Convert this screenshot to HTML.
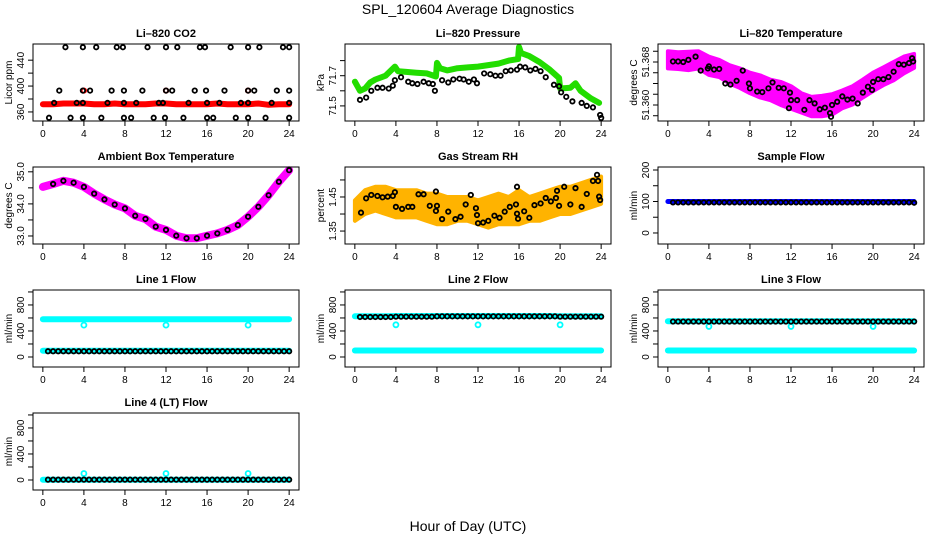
<!DOCTYPE html>
<html><head><meta charset="utf-8"><style>
html,body{margin:0;padding:0;background:#fff;}
svg{display:block;font-family:"Liberation Sans",sans-serif;}
</style></head><body>
<svg id="chart" width="936" height="540" viewBox="0 0 936 540" xmlns="http://www.w3.org/2000/svg">
<rect width="936" height="540" fill="#fff"/>
<text x="468" y="14" font-size="14" text-anchor="middle">SPL_120604  Average Diagnostics</text>
<text x="468" y="531" font-size="14" text-anchor="middle">Hour of Day (UTC)</text>
</svg>
<script>
// ---------- data ----------
const xTicks = [0,4,8,12,16,20,24];
const hrsHourly = [0,1,2,3,4,5,6,7,8,9,10,11,12,13,14,15,16,17,18,19,20,21,22,23,24];
const hrsHalf = [0.5,1,1.5,2,2.5,3,3.5,4,4.5,5,5.5,6,6.5,7,7.5,8,8.5,9,9.5,10,10.5,11,11.5,12,12.5,13,13.5,14,14.5,15,15.5,16,16.5,17,17.5,18,18.5,19,19.5,20,20.5,21,21.5,22,22.5,23,23.5,24];

// CO2
const co2HiHours = [2.2,3.9,5.2,7.2,7.8,10.2,12,13.1,15.3,15.8,18.3,20,21.1,23.4,24];
const co2HiVals = [460,460,460,460,460,460,460,460,460,460,460,460,460,460,460];
const co2M1Hours = [1.6,3.9,4.6,6.7,7.9,9.7,12,12.6,14.8,15.9,17.7,20,20.6,22.8,24];
const co2M1Vals = [393,393,393,393,393,393,393,393,393,393,393,393,393,393,393];
const co2M2Hours = [1.1,3.3,3.9,6.3,7.9,9.1,11.3,11.7,14.2,16,17.2,19.3,20,22.3,24];
const co2M2Vals = [374,374,374,374,374,374,374,374,374,374,374,374,374,374,374];
const co2LoHours = [0.6,2.7,3.9,5.7,7.9,8.6,10.8,11.9,13.7,16,16.6,18.8,20,21.7,24];
const co2LoVals = [351,351,351,351,351,351,351,351,351,351,351,351,351,351,351];
const co2RedVals = [372,372,373,373,373,372,372,373,372,372,372,373,373,372,372,372,372,373,372,372,372,373,371,372,372];
const co2RedSpikeHours = [4,12,20];
const co2RedSpikeVals = [393,393,393];

// Pressure
const presBlackHours = [0.5,1.1,1.6,2.2,2.7,3.3,3.7,3.9,4.5,5.2,5.6,6.1,6.7,7.2,7.6,7.8,8.5,9.1,9.6,10.2,10.6,11.1,11.6,11.9,12.6,13.2,13.7,14.2,14.7,15.2,15.8,16.1,16.6,17.1,17.6,18.1,18.6,19.4,19.9,20.1,20.6,21.2,22.1,22.6,23.2,23.9,24];
const presBlackVals = [71.54,71.555,71.60,71.62,71.62,71.615,71.634,71.67,71.69,71.66,71.65,71.645,71.66,71.65,71.645,71.60,71.67,71.655,71.675,71.68,71.675,71.66,71.675,71.65,71.715,71.71,71.70,71.70,71.73,71.735,71.74,71.76,71.755,71.735,71.745,71.73,71.69,71.64,71.63,71.59,71.56,71.53,71.52,71.50,71.49,71.44,71.42];
const presGreenHours = [0,0.5,1,1.5,2,3,3.9,4.2,5,6,7,7.9,8,8.3,9,10,11,12,13,14,15,15.9,16,16.2,17,18,19,19.9,20,21,21.5,22,23,23.8];
const presGreenVals = [71.66,71.60,71.615,71.655,71.675,71.70,71.76,71.73,71.725,71.72,71.715,71.695,71.785,71.75,71.735,71.75,71.755,71.76,71.77,71.78,71.80,71.81,71.89,71.85,71.83,71.79,71.74,71.685,71.615,71.62,71.65,71.60,71.55,71.52];

// Li-820 temperature
const tempBlackHours = [0.5,1,1.5,2,2.7,3.2,3.9,4,4.5,5,5.6,6.1,6.7,7.3,7.9,8,8.7,9.2,9.8,10.2,10.8,11.3,11.9,12,11.8,12.6,13.3,13.8,14.3,14.8,15.3,15.8,15.9,16,16.5,17,17.5,18,18.5,19,19.5,19.9,20,20.5,21,21.5,22,22.5,23,23.5,23.8,23.9];
const tempBlackVals = [51.3681,51.3681,51.3680,51.3684,51.3690,51.3664,51.3668,51.3672,51.3666,51.3667,51.3640,51.3638,51.3645,51.3664,51.3640,51.3631,51.3625,51.3624,51.3631,51.3642,51.3632,51.3631,51.3623,51.3609,51.3594,51.3609,51.3591,51.3609,51.3603,51.3592,51.3595,51.3585,51.3578,51.3600,51.3606,51.3616,51.3610,51.3612,51.3603,51.3623,51.3634,51.3628,51.3643,51.3648,51.3648,51.3652,51.3662,51.3676,51.3675,51.3678,51.3687,51.3681];
const tempBandHi = [51.3700,51.3698,51.3699,51.3700,51.3690,51.3684,51.3674,51.3668,51.3660,51.3655,51.3647,51.3643,51.3635,51.3622,51.3615,51.3617,51.3620,51.3627,51.3635,51.3647,51.3660,51.3670,51.3680,51.3690,51.3695];
const tempBandLo = [51.3668,51.3667,51.3665,51.3668,51.3656,51.3652,51.3640,51.3632,51.3622,51.3614,51.3609,51.3600,51.3593,51.3586,51.3579,51.3579,51.3582,51.3594,51.3601,51.3614,51.3626,51.3637,51.3646,51.3659,51.3669];

// Ambient box temperature
const ambVals = [34.53,34.62,34.72,34.66,34.53,34.32,34.14,33.98,33.86,33.63,33.53,33.29,33.19,33.01,32.93,32.93,33.01,33.08,33.19,33.34,33.60,33.91,34.27,34.69,35.05];

// Gas stream RH
const rhBlackHours = [0.6,1.1,1.6,2.2,2.7,3.2,3.7,3.9,4,4.6,5.2,5.6,6.2,6.7,7.3,7.9,7.9,8,8.5,9.1,9.8,10.3,10.8,11.3,11.8,11.9,12,12.5,13,13.6,14.1,14.6,15.1,15.7,15.8,15.8,15.9,16.5,17,17.5,18.1,18.6,19.1,19.6,19.7,19.9,20.4,21,21.5,22.1,22.6,23.2,23.6,23.7,23.8,23.9];
const rhBlackVals = [1.404,1.446,1.456,1.453,1.449,1.451,1.453,1.464,1.421,1.415,1.421,1.421,1.458,1.458,1.424,1.466,1.409,1.424,1.385,1.407,1.385,1.392,1.428,1.456,1.417,1.397,1.373,1.375,1.380,1.395,1.389,1.407,1.421,1.428,1.480,1.401,1.386,1.408,1.389,1.426,1.431,1.447,1.437,1.447,1.468,1.424,1.480,1.428,1.476,1.421,1.459,1.497,1.515,1.497,1.451,1.441];
const rhBandHi = [1.44,1.47,1.48,1.48,1.47,1.47,1.47,1.46,1.46,1.45,1.45,1.45,1.44,1.45,1.46,1.45,1.47,1.45,1.46,1.47,1.48,1.48,1.49,1.50,1.51];
const rhBandLo = [1.38,1.40,1.41,1.40,1.39,1.39,1.39,1.38,1.37,1.37,1.38,1.38,1.37,1.36,1.37,1.37,1.37,1.38,1.38,1.39,1.40,1.40,1.41,1.42,1.43];

// Flows
const sampleBlue = [100,100,100,100,100,100,100,100,100,100,100,100,100,100,100,100,100,100,100,100,100,100,100,100,100];
const sampleBlack = [97,97,97,97,97,97,97,97,97,97,97,97,97,97,97,97,97,97,97,97,97,97,97,97,97,97,97,97,97,97,97,97,97,97,97,97,97,97,97,97,97,97,97,97,97,97,97,96];
const line1CyanHi = [580,580,580,580,580,580,580,580,580,580,580,580,580,580,580,580,580,580,580,580,580,580,580,580,580];
const line1CyanLo = [95,95,95,95,95,95,95,95,95,95,95,95,95,95,95,95,95,95,95,95,95,95,95,95,95];
const line1Black = [88,88,88,88,88,88,88,88,88,88,88,88,88,88,88,88,88,88,88,88,88,88,88,88,88,88,88,88,88,88,88,88,88,88,88,88,88,88,88,88,88,88,88,88,88,88,88,88];
const line2CyanHi = [625,625,625,625,630,630,630,630,630,630,630,630,630,630,630,630,630,630,630,630,625,625,625,625,625];
const line2CyanLo = [100,100,100,100,100,100,100,100,100,100,100,100,100,100,100,100,100,100,100,100,100,100,100,100,100];
const line2Black = [615,615,615,615,615,615,615,620,620,620,620,620,620,620,620,625,625,625,625,625,625,625,625,625,625,625,625,625,625,625,625,625,625,625,625,625,625,625,625,620,620,620,620,620,620,620,620,620];
const line3CyanHi = [550,550,550,550,550,550,550,550,550,550,550,550,550,550,550,550,550,550,550,550,550,550,550,550,550];
const line3CyanLo = [100,100,100,100,100,100,100,100,100,100,100,100,100,100,100,100,100,100,100,100,100,100,100,100,100];
const line3Black = [545,545,545,545,545,545,545,545,545,545,545,545,545,545,545,545,545,545,545,545,545,545,545,545,545,545,545,545,545,545,545,545,545,545,545,545,545,545,545,545,545,545,545,545,545,545,545,545];
const line4Cyan = [5,5,5,5,5,5,5,5,5,5,5,5,5,5,5,5,5,5,5,5,5,5,5,5,5];
const line4Black = [5,5,5,5,5,5,5,5,5,5,5,5,5,5,5,5,5,5,5,5,5,5,5,5,5,5,5,5,5,5,5,5,5,5,5,5,5,5,5,5,5,5,5,5,5,5,5,5];
const dipHours = [4,12,20];
const line1Dips = [490,490,490];
const line2Dips = [495,495,495];
const line3Dips = [470,470,470];
const line4Spikes = [100,100,100];

// ---------- drawing ----------
const NS = "http://www.w3.org/2000/svg";
const svg = document.getElementById('chart');
function mk(tag, attrs, parent){
  const e = document.createElementNS(NS, tag);
  for (const k in attrs) e.setAttribute(k, attrs[k]);
  (parent||svg).appendChild(e);
  return e;
}
const cols = [33,345,658];
const rows = [[44,121],[167,244],[290,367],[413,490]];
const W = 266;

function panel(name, title, col, row, ylim, ticks, labels, ylab){
  const l = cols[col], r = l + W, t = rows[row][0], b = rows[row][1];
  const g = mk('g', {});
  
  
  const xs = v => l + (v + 0.96) / 25.92 * W;
  const ys = v => b - (v - ylim[0]) / (ylim[1] - ylim[0]) * (b - t);
  const tt = mk('text', {x:(l+r)/2, y:t-7, 'font-size':11, 'font-weight':'bold', 'text-anchor':'middle'}, g);
  tt.textContent = title;
  
  
  const plot = mk('g', {}, g);
  
  
  const xa = mk('g', {}, g);
  
  
  mk('line', {x1:xs(xTicks[0]), x2:xs(xTicks[xTicks.length-1]), y1:b, y2:b, stroke:'#000'}, xa);
  xTicks.forEach(v => {
    mk('line', {x1:xs(v), x2:xs(v), y1:b, y2:b+5, stroke:'#000'}, xa);
    const tx = mk('text', {x:xs(v), y:b+16, 'font-size':10, 'text-anchor':'middle'}, xa);
    tx.textContent = v;
  });
  const ya = mk('g', {}, g);
  
  
  mk('line', {x1:l, x2:l, y1:ys(ticks[0]), y2:ys(ticks[ticks.length-1]), stroke:'#000'}, ya);
  ticks.forEach(v => {
    mk('line', {x1:l-5, x2:l, y1:ys(v), y2:ys(v), stroke:'#000'}, ya);
  });
  labels.forEach(v => {
    const y = ys(v);
    const tx = mk('text', {x:l-9, y:y, 'font-size':10, 'text-anchor':'middle', transform:`rotate(-90 ${l-9} ${y})`}, ya);
    tx.textContent = v;
  });
  const yl = mk('text', {x:l-21, y:(t+b)/2, 'font-size':10, 'text-anchor':'middle', transform:`rotate(-90 ${l-21} ${(t+b)/2})`}, g);
  yl.textContent = ylab;
  
  
  mk('rect', {x:l, y:t, width:W, height:b-t, fill:'none', stroke:'#000'}, g);
  return {xs, ys, plot};
}
function pts(P, hours, vals, color, r, sw, name){
  const g = mk('g', {}, P.plot);
  
  
  hours.forEach((h,i) => {
    mk('circle', {cx:P.xs(h), cy:P.ys(vals[i]), r:r, fill:'none', stroke:color, 'stroke-width':sw}, g);
  });
}
function line(P, hours, vals, color, w, name){
  const d = hours.map((h,i) => (i?'L':'M') + P.xs(h).toFixed(1) + ' ' + P.ys(vals[i]).toFixed(1)).join(' ');
  const p = mk('path', {d:d, fill:'none', stroke:color, 'stroke-width':w, 'stroke-linejoin':'round', 'stroke-linecap':'round'}, P.plot);
  
  
}
function band(P, hours, lo, hi, color, name){
  const up = hours.map((h,i) => P.xs(h).toFixed(1)+','+P.ys(hi[i]).toFixed(1));
  const dn = hours.map((h,i) => P.xs(h).toFixed(1)+','+P.ys(lo[i]).toFixed(1)).reverse();
  const p = mk('polygon', {points: up.concat(dn).join(' '), fill:color, stroke:color, 'stroke-width':4, 'stroke-linejoin':'round'}, P.plot);
  
  
}

const SW = 1.8;
let P = panel('co2-panel', 'Li\u2013820 CO2', 0, 0, [346,465], [360,380,400,420,440], [360,400,440], 'Licor ppm');
line(P, hrsHourly, co2RedVals, '#f00', 6, 'co2-red-series');
pts(P, co2RedSpikeHours, co2RedSpikeVals, '#f00', 2.2, SW, 'co2-red-spikes');
pts(P, co2HiHours, co2HiVals, '#000', 2.2, SW, 'co2-black-460');
pts(P, co2M1Hours, co2M1Vals, '#000', 2.2, SW, 'co2-black-393');
pts(P, co2M2Hours, co2M2Vals, '#000', 2.2, SW, 'co2-black-374');
pts(P, co2LoHours, co2LoVals, '#000', 2.2, SW, 'co2-black-351');

P = panel('pressure-panel', 'Li\u2013820 Pressure', 1, 0, [71.40,71.91], [71.5,71.6,71.7,71.8], [71.5,71.7], 'kPa');
line(P, presGreenHours, presGreenVals, '#22dd00', 6, 'pressure-green-series');
pts(P, presBlackHours, presBlackVals, '#000', 2.2, SW, 'pressure-black-points');

P = panel('li820-temp-panel', 'Li\u2013820 Temperature', 2, 0, [51.35702,51.37135], [51.358,51.360,51.362,51.364,51.366,51.368,51.370], ['51.360','51.368'], 'degrees C');
band(P, hrsHourly, tempBandLo, tempBandHi, '#ff00ff', 'temp-magenta-band');
pts(P, tempBlackHours, tempBlackVals, '#000', 2.2, SW, 'temp-black-points');

P = panel('ambient-temp-panel', 'Ambient Box Temperature', 0, 1, [32.75,35.15], [33.0,33.5,34.0,34.5,35.0], ['33.0','34.0','35.0'], 'degrees C');
line(P, hrsHourly, ambVals, '#ff00ff', 8, 'ambient-magenta-series');
pts(P, hrsHourly.slice(1), ambVals.slice(1), '#000', 2.2, SW, 'ambient-black-points');

P = panel('rh-panel', 'Gas Stream RH', 1, 1, [1.312,1.538], [1.35,1.40,1.45,1.50], ['1.35','1.45'], 'percent');
band(P, hrsHourly, rhBandLo, rhBandHi, '#ffb300', 'rh-orange-band');
pts(P, rhBlackHours, rhBlackVals, '#000', 2.2, SW, 'rh-black-points');

P = panel('sample-flow-panel', 'Sample Flow', 2, 1, [-35,209.5], [0,50,100,150,200], [0,100,200], 'ml/min');
line(P, hrsHourly, sampleBlue, '#0000ff', 5, 'sample-blue-series');
pts(P, hrsHalf, sampleBlack, '#000', 2.2, SW, 'sample-black-points');

const fl = [-154,1030], ft = [0,200,400,600,800,1000], flab = [0,400,800];
P = panel('line1-flow-panel', 'Line 1 Flow', 0, 2, fl, ft, flab, 'ml/min');
line(P, hrsHourly, line1CyanHi, '#00ffff', 6, 'line1-cyan-high');
line(P, hrsHourly, line1CyanLo, '#00ffff', 6, 'line1-cyan-low');
pts(P, dipHours, line1Dips, '#00ffff', 2.5, SW, 'line1-cyan-dips');
pts(P, hrsHalf, line1Black, '#000', 2.2, SW, 'line1-black-points');

P = panel('line2-flow-panel', 'Line 2 Flow', 1, 2, fl, ft, flab, 'ml/min');
line(P, hrsHourly, line2CyanHi, '#00ffff', 6, 'line2-cyan-high');
line(P, hrsHourly, line2CyanLo, '#00ffff', 6, 'line2-cyan-low');
pts(P, dipHours, line2Dips, '#00ffff', 2.5, SW, 'line2-cyan-dips');
pts(P, hrsHalf, line2Black, '#000', 2.2, SW, 'line2-black-points');

P = panel('line3-flow-panel', 'Line 3 Flow', 2, 2, fl, ft, flab, 'ml/min');
line(P, hrsHourly, line3CyanHi, '#00ffff', 6, 'line3-cyan-high');
line(P, hrsHourly, line3CyanLo, '#00ffff', 6, 'line3-cyan-low');
pts(P, dipHours, line3Dips, '#00ffff', 2.5, SW, 'line3-cyan-dips');
pts(P, hrsHalf, line3Black, '#000', 2.2, SW, 'line3-black-points');

P = panel('line4-flow-panel', 'Line 4 (LT) Flow', 0, 3, fl, ft, flab, 'ml/min');
line(P, hrsHourly, line4Cyan, '#00ffff', 6, 'line4-cyan-series');
pts(P, dipHours, line4Spikes, '#00ffff', 2.5, SW, 'line4-cyan-spikes');
pts(P, hrsHalf, line4Black, '#000', 2.2, SW, 'line4-black-points');
</script>
</body></html>
